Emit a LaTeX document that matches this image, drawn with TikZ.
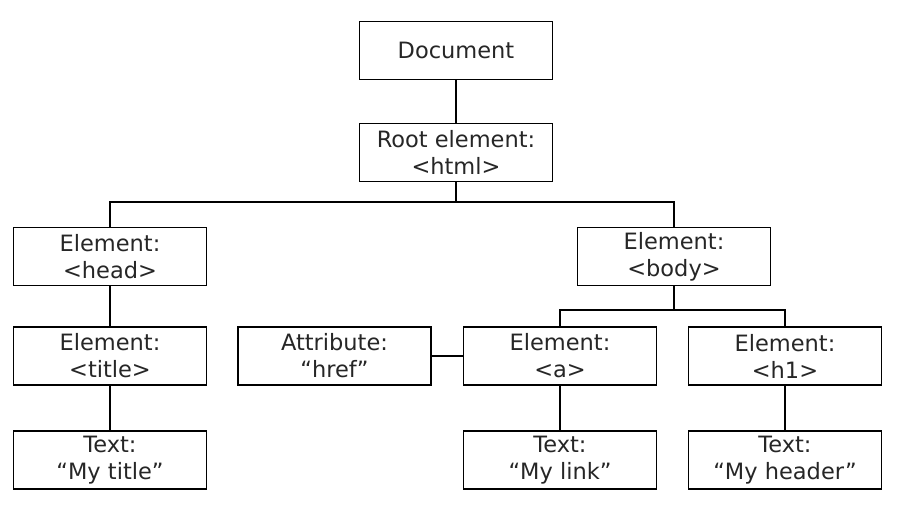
\documentclass[tikz,border=0pt]{standalone}
\usepackage{fontspec}
\setmainfont{DejaVu Sans}
\begin{document}
\begin{tikzpicture}[x=1pt,y=-1pt,
  box/.style={draw=black,line width=1.8pt,minimum width=193pt,minimum height=58pt,inner sep=0pt,align=center,font=\fontsize{22.5}{27}\selectfont,text=black!85},
  conn/.style={line width=1.8pt}]
\useasboundingbox (0,0) rectangle (897,512);
\node[box] (doc) at (456,50.5) {Document};
\node[box] (root) at (456,152.5) {Root element:\\<html>};
\node[box] (head) at (110,256.5) {Element:\\<head>};
\node[box] (title) at (110,356) {Element:\\<title>};
\node[box] (ttext) at (110,460) {Text:\\“My title”};
\node[box] (attr) at (334.5,356) {Attribute:\\“href”};
\node[box] (body) at (674,256.5) {Element:\\<body>};
\node[box] (a) at (560,356) {Element:\\<a>};
\node[box] (h1) at (785,356) {Element:\\<h1>};
\node[box] (atext) at (560,460) {Text:\\“My link”};
\node[box] (htext) at (785,460) {Text:\\“My header”};
\coordinate (bus1) at (456,202);
\coordinate (bus2) at (674,310);
\draw[conn] (doc.south) -- (root.north);
\draw[conn] (root.south) -- (bus1) -| (head.north);
\draw[conn] (bus1) -| (body.north);
\draw[conn] (body.south) -- (bus2) -| (a.north);
\draw[conn] (bus2) -| (h1.north);
\draw[conn] (attr.east) -- (a.west);
\draw[conn] (head.south) -- (title.north);
\draw[conn] (title.south) -- (ttext.north);
\draw[conn] (a.south) -- (atext.north);
\draw[conn] (h1.south) -- (htext.north);
\end{tikzpicture}
\end{document}
